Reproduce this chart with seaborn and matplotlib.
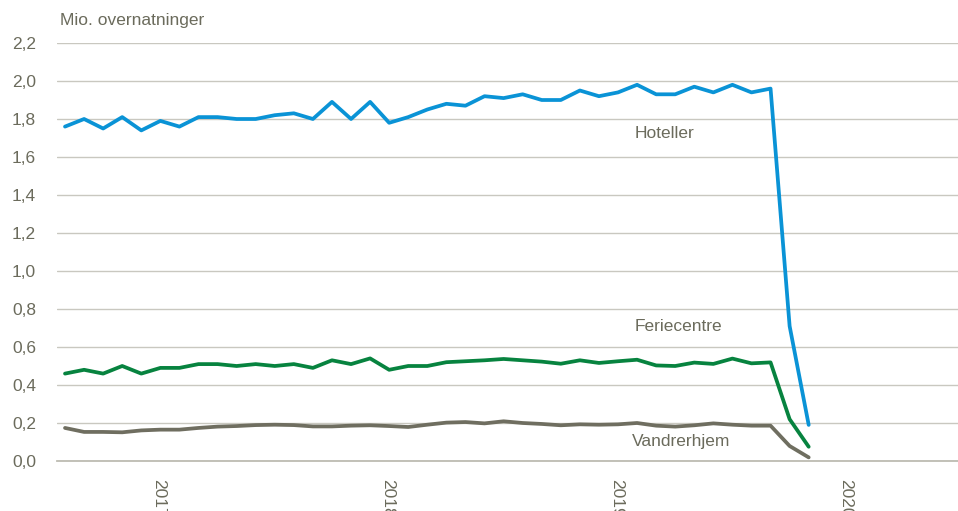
import pandas as pd
import numpy as np
import matplotlib
matplotlib.use("Agg")
import matplotlib.pyplot as plt
import seaborn as sns

# ---- data (monthly, Jan 2017 - Apr 2020), mio. overnatninger ----
hoteller = [1.76, 1.80, 1.75, 1.81, 1.74, 1.79, 1.76, 1.81, 1.81, 1.80,
            1.80, 1.82, 1.83, 1.80, 1.89, 1.80, 1.89, 1.78, 1.81, 1.85,
            1.88, 1.87, 1.92, 1.91, 1.93, 1.90, 1.90, 1.95, 1.92, 1.94,
            1.98, 1.93, 1.93, 1.97, 1.94, 1.98, 1.94, 1.96, 0.71, 0.19]
feriecentre = [0.46, 0.48, 0.46, 0.50, 0.46, 0.49, 0.49, 0.51, 0.51, 0.50,
               0.51, 0.50, 0.51, 0.49, 0.53, 0.51, 0.54, 0.48, 0.50, 0.50,
               0.52, 0.525, 0.53, 0.537, 0.53, 0.523, 0.512, 0.53, 0.516, 0.525,
               0.533, 0.503, 0.50, 0.518, 0.511, 0.539, 0.514, 0.519, 0.22, 0.075]
vandrerhjem = [0.174, 0.153, 0.153, 0.151, 0.161, 0.165, 0.165, 0.174, 0.181, 0.184,
               0.189, 0.191, 0.189, 0.182, 0.182, 0.186, 0.188, 0.184, 0.179, 0.191,
               0.202, 0.205, 0.198, 0.209, 0.200, 0.195, 0.188, 0.193, 0.191, 0.193,
               0.200, 0.186, 0.181, 0.188, 0.198, 0.191, 0.186, 0.186, 0.079, 0.019]
maaned = list(range(len(hoteller)))

aar_labels = ["2017", "2018", "2019", "2020"]
aar_pos = [4.93, 16.93, 28.93, 40.93]
y_ticks = [0.0, 0.2, 0.4, 0.6, 0.8, 1.0, 1.2, 1.4, 1.6, 1.8, 2.0, 2.2]

serier = ["Hoteller", "Feriecentre", "Vandrerhjem"]
farver = {"Hoteller": "#0a93d6", "Feriecentre": "#07833f", "Vandrerhjem": "#6f6e60"}

df = pd.DataFrame({
    "maaned": maaned * 3,
    "vaerdi": hoteller + feriecentre + vandrerhjem,
    "serie": sum([[s] * len(maaned) for s in serier], []),
})

# ---- style ----
sns.set_style("white")
plt.rcParams['font.family'] = ['Liberation Sans', 'DejaVu Sans']
TEXT = "#6b6b5c"
GRID = "#c9c8c0"

fig = plt.figure(figsize=(9.58, 5.11), dpi=100)
ax = fig.add_axes([57 / 958, 50 / 511, 901 / 958, 418 / 511])

sns.lineplot(data=df, x="maaned", y="vaerdi", hue="serie", palette=farver,
             hue_order=serier, linewidth=2.7, legend=False, ax=ax)

ax.set_xlim(-0.42, 46.83)
ax.set_ylim(0, 2.2)
ax.set_yticks(y_ticks)
ax.set_yticklabels([f"{v:.1f}".replace(".", ",") for v in y_ticks],
                   fontsize=12.5, color=TEXT)
ax.set_xticks(aar_pos)
ax.set_xticklabels(aar_labels, rotation=-90, fontsize=12.5, color=TEXT, va="top")
ax.tick_params(axis="y", length=0, pad=15)
ax.tick_params(axis="x", length=0, pad=13)
ax.set_xlabel("")
ax.set_ylabel("")

ax.grid(axis="y", color=GRID, linewidth=1)
ax.grid(axis="x", visible=False)
ax.set_axisbelow(True)
for side in ["top", "right", "left"]:
    ax.spines[side].set_visible(False)
ax.spines["bottom"].set_color("#bdbcb2")
ax.spines["bottom"].set_linewidth(1.3)

# series labels
ax.text(29.85, 1.726, "Hoteller", fontsize=12.5, color=TEXT, va="center", ha="left")
ax.text(29.85, 0.71, "Feriecentre", fontsize=12.5, color=TEXT, va="center", ha="left")
ax.text(29.75, 0.105, "Vandrerhjem", fontsize=12.5, color=TEXT, va="center", ha="left")

fig.text(60 / 958, 1 - 20 / 511, "Mio. overnatninger", fontsize=12.5, color=TEXT,
         va="center", ha="left")

fig.savefig("out.png", dpi=100)
